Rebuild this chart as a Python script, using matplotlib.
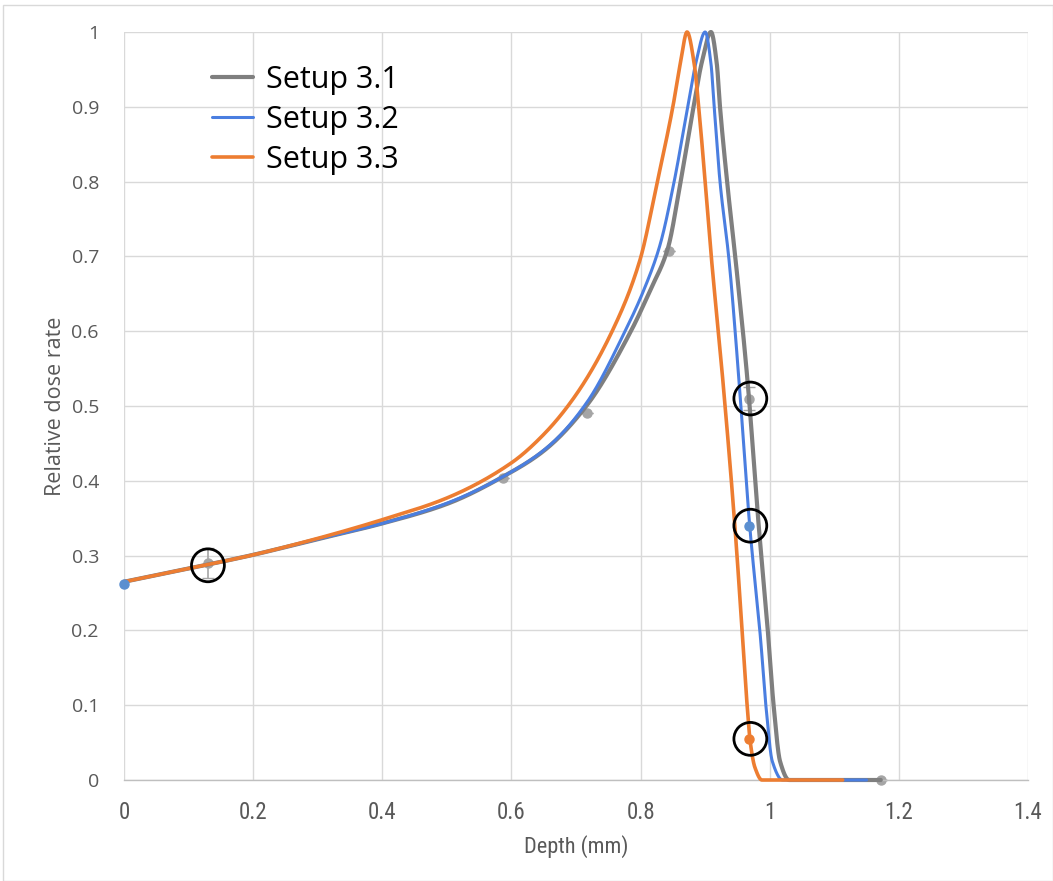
import numpy as np
import matplotlib
matplotlib.use("Agg")
import matplotlib.pyplot as plt
from matplotlib import font_manager
from matplotlib.patches import Rectangle

# ---- depth-dose profiles (depth in mm, relative dose rate) ----
depth_31 = [0.0, 0.13, 0.2, 0.3, 0.4, 0.5, 0.59, 0.65, 0.716, 0.785, 0.815, 0.842,
            0.862, 0.880, 0.895, 0.909, 0.918, 0.923, 0.934, 0.949, 0.966, 0.982,
            0.997, 1.006, 1.016, 1.03, 1.06, 1.172]
dose_31 = [0.265, 0.288, 0.301, 0.322, 0.343, 0.369, 0.407, 0.44, 0.50, 0.60, 0.655, 0.71,
           0.80, 0.89, 0.96, 1.0, 0.958, 0.90, 0.80, 0.68, 0.53, 0.35,
           0.20, 0.10, 0.025, 0.0, 0.0, 0.0]

depth_32 = [0.0, 0.13, 0.2, 0.3, 0.4, 0.5, 0.6, 0.66, 0.717, 0.776, 0.805, 0.83,
            0.852, 0.871, 0.886, 0.900, 0.909, 0.914, 0.923, 0.937, 0.951, 0.969,
            0.986, 0.994, 1.004, 1.02, 1.05, 1.15]
dose_32 = [0.265, 0.288, 0.301, 0.322, 0.343, 0.370, 0.412, 0.448, 0.505, 0.60, 0.655, 0.715,
           0.80, 0.89, 0.96, 1.0, 0.958, 0.90, 0.80, 0.695, 0.55, 0.34,
           0.187, 0.10, 0.025, 0.0, 0.0, 0.0]

depth_33 = [0.0, 0.13, 0.2, 0.3, 0.4, 0.5, 0.6, 0.65, 0.7, 0.756, 0.799, 0.826,
            0.85, 0.862, 0.872, 0.883, 0.89, 0.900, 0.910, 0.926, 0.946, 0.958,
            0.965, 0.970, 0.977, 0.988, 1.01, 1.113]
dose_33 = [0.265, 0.288, 0.301, 0.323, 0.348, 0.377, 0.424, 0.462, 0.515, 0.60, 0.695, 0.80,
           0.90, 0.96, 1.0, 0.958, 0.90, 0.80, 0.695, 0.548, 0.34, 0.19,
           0.10, 0.05, 0.017, 0.0, 0.0, 0.0]

# ---- measured points ----
meas_x_31 = [0.13, 0.587, 0.717, 0.844, 0.968, 1.172]
meas_y_31 = [0.29, 0.404, 0.49, 0.707, 0.51, 0.0]
meas_err_31 = [0.02, 0.0, 0.0, 0.0, 0.015, 0.0]
meas_x_32 = [0.0, 0.968]
meas_y_32 = [0.262, 0.34]
meas_x_33 = [0.968]
meas_y_33 = [0.055]

# highlighted points
ring_x = [0.13, 0.97, 0.97, 0.97]
ring_y = [0.287, 0.51, 0.34, 0.055]

series_names = ["Setup 3.1", "Setup 3.2", "Setup 3.3"]
x_ticks = [0, 0.2, 0.4, 0.6, 0.8, 1.0, 1.2, 1.4]
x_tick_labels = ["0", "0.2", "0.4", "0.6", "0.8", "1", "1.2", "1.4"]
y_ticks = [0, 0.1, 0.2, 0.3, 0.4, 0.5, 0.6, 0.7, 0.8, 0.9, 1.0]
y_tick_labels = ["0", "0.1", "0.2", "0.3", "0.4", "0.5", "0.6", "0.7", "0.8", "0.9", "1"]

GREY = "#7f7f7f"
BLUE = "#4a7ee0"
ORANGE = "#ed7d31"
TEXT = "#595959"


def pick_font(candidates):
    for name in candidates:
        try:
            font_manager.findfont(name, fallback_to_default=False)
            return name
        except Exception:
            continue
    return "DejaVu Sans"


narrow = pick_font(["Liberation Sans Narrow", "Roboto Condensed", "DejaVu Sans"])
body = pick_font(["Open Sans", "Noto Sans", "DejaVu Sans"])


def smooth(xs, ys, n=40):
    """Monotone piecewise-cubic (PCHIP) line through the given points."""
    x = np.asarray(xs, float)
    y = np.asarray(ys, float)
    h = np.diff(x)
    delta = np.diff(y) / h
    d = np.zeros_like(x)
    for k in range(1, len(x) - 1):
        if delta[k - 1] * delta[k] <= 0:
            d[k] = 0.0
        else:
            w1 = 2 * h[k] + h[k - 1]
            w2 = h[k] + 2 * h[k - 1]
            d[k] = (w1 + w2) / (w1 / delta[k - 1] + w2 / delta[k])
    d[0] = delta[0]
    d[-1] = delta[-1]
    px, py = [], []
    for k in range(len(x) - 1):
        t = np.linspace(0, 1, n, endpoint=(k == len(x) - 2))
        h00 = 2 * t**3 - 3 * t**2 + 1
        h10 = t**3 - 2 * t**2 + t
        h01 = -2 * t**3 + 3 * t**2
        h11 = t**3 - t**2
        px.append(x[k] + t * h[k])
        py.append(h00 * y[k] + h10 * h[k] * d[k] + h01 * y[k + 1] + h11 * h[k] * d[k + 1])
    return np.concatenate(px), np.concatenate(py)


fig = plt.figure(figsize=(10.53, 8.81), dpi=100)
fig.patches.append(Rectangle((3 / 1053, 0), 1 - 3 / 1053, 1 - 5 / 881, transform=fig.transFigure,
                             fill=False, edgecolor="#d9d9d9", linewidth=1.0))
ax = fig.add_axes([124 / 1053, 1 - 780 / 881, 904 / 1053, 748 / 881])

ax.set_xlim(0, 1.4)
ax.set_ylim(0, 1.0)
ax.set_xticks(x_ticks)
ax.set_xticklabels(x_tick_labels)
ax.set_yticks(y_ticks)
ax.set_yticklabels(y_tick_labels)
ax.grid(True, color="#d9d9d9", linewidth=1.0)
ax.set_axisbelow(True)
for side in ["top", "right", "left"]:
    ax.spines[side].set_visible(False)
ax.spines["bottom"].set_color("#bfbfbf")
ax.spines["bottom"].set_linewidth(1.0)
ax.tick_params(length=0)
ax.tick_params(axis="x", pad=15, labelsize=16.5, labelcolor=TEXT)
ax.tick_params(axis="y", pad=18, labelsize=14, labelcolor=TEXT)
for lab in ax.get_xticklabels():
    lab.set_fontfamily(narrow)
for lab in ax.get_yticklabels():
    lab.set_fontfamily(body)

ax.set_xlabel("Depth (mm)", fontsize=16, color=TEXT, family=narrow, labelpad=8)
ax.set_ylabel("Relative dose rate", fontsize=15.5, color=TEXT, family=body, labelpad=4)

# measured points (drawn under the curves)
ax.errorbar(meas_x_31, meas_y_31, yerr=meas_err_31, fmt="o", color="#a5a5a5", ms=6.5,
            ecolor="#a5a5a5", elinewidth=1.2, capsize=4, zorder=2, clip_on=False)
ax.plot(meas_x_32, meas_y_32, "o", color="#5b8fd0", ms=6.5, zorder=5, clip_on=False)
ax.plot(meas_x_33, meas_y_33, "o", color=ORANGE, ms=6.5, zorder=5, clip_on=False)

curves = [(depth_31, dose_31, GREY, 3.0), (depth_32, dose_32, BLUE, 2.2), (depth_33, dose_33, ORANGE, 2.6)]
for (xs, ys, col, lw), name in zip(curves, series_names):
    sx, sy = smooth(xs, ys)
    ax.plot(sx, sy, color=col, linewidth=lw, label=name, zorder=3, clip_on=False,
            solid_capstyle="round")

ax.scatter(ring_x, ring_y, s=560, facecolors="none", edgecolors="black", linewidths=2.0,
           zorder=6, clip_on=False)

ax.legend(loc="upper left", bbox_to_anchor=(0.067, 0.993), frameon=False,
          handlelength=1.35, handletextpad=0.42, labelspacing=0.33,
          prop={"family": body, "size": 22})

fig.savefig("out.png", dpi=100)
